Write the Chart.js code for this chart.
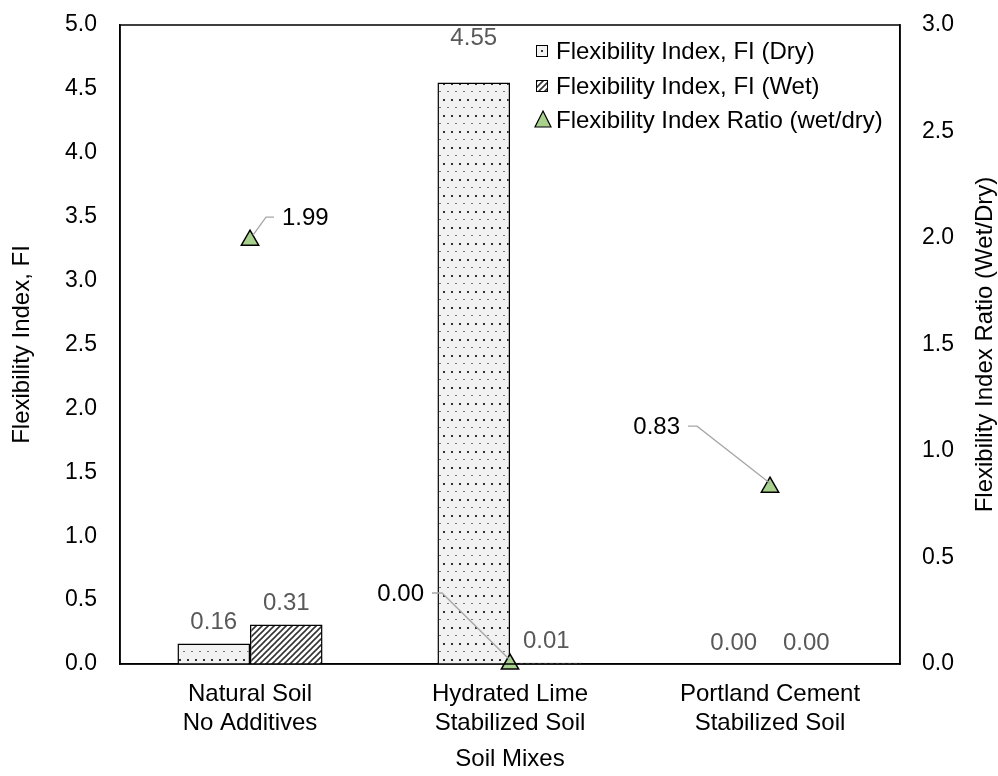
<!DOCTYPE html>
<html lang="en">
  <head>
    <meta charset="UTF-8" />
    <title>Flexibility Index</title>
    <style>
      html, body { margin: 0; padding: 0; background: #fff; }
      #wrap { width: 998px; height: 776px; }
    </style>
  </head>
  <body>
    <div id="wrap"><canvas id="fiChart" width="998" height="776"></canvas></div>
    <script src="https://cdn.jsdelivr.net/npm/chart.js@4.4.0/dist/chart.umd.min.js"></script>
    <script>
      // data
      var mixes = [["Natural Soil", "No Additives"], ["Hydrated Lime", "Stabilized Soil"], ["Portland Cement", "Stabilized Soil"]];
      var fiDry = [0.16, 4.55, 0.0];
      var fiWet = [0.31, 0.01, 0.0];
      var fiRatio = [1.99, 0.0, 0.83];
      var leftTicks = [0, 0.5, 1, 1.5, 2, 2.5, 3, 3.5, 4, 4.5, 5];
      var rightTicks = [0, 0.5, 1, 1.5, 2, 2.5, 3];

      var FONT = "'Liberation Sans', Arial, sans-serif";

      function dotPattern() {
        var c = document.createElement("canvas");
        c.width = 8; c.height = 16;
        var g = c.getContext("2d");
        g.fillStyle = "#f2f2f2";
        g.fillRect(0, 0, 8, 16);
        g.fillStyle = "#333";
        g.fillRect(3, 3, 2, 2);
        g.fillStyle = "#777";
        g.fillRect(7, 11, 2, 1);
        g.fillRect(-1, 11, 2, 1);
        return g.createPattern(c, "repeat");
      }

      function hatchPattern() {
        var c = document.createElement("canvas");
        c.width = 6; c.height = 6;
        var g = c.getContext("2d");
        g.fillStyle = "#fff";
        g.fillRect(0, 0, 6, 6);
        g.strokeStyle = "#333";
        g.lineWidth = 1.6;
        g.beginPath();
        g.moveTo(-1, 7); g.lineTo(7, -1);
        g.moveTo(-1, 1); g.lineTo(1, -1);
        g.moveTo(5, 7); g.lineTo(7, 5);
        g.stroke();
        return g.createPattern(c, "repeat");
      }

      var dryFill = dotPattern();
      var wetFill = hatchPattern();

      // labels, leader lines, legend, right title and plot frame
      var decorations = {
        id: "decorations",
        afterDatasetsDraw: function (chart) {
          var ctx = chart.ctx;
          var area = chart.chartArea;
          ctx.save();

          // frame
          ctx.strokeStyle = "#000";
          ctx.lineWidth = 1.5;
          ctx.strokeRect(area.left, area.top, area.right - area.left, area.bottom - area.top);

          ctx.font = "24px " + FONT;
          ctx.textAlign = "center";
          ctx.textBaseline = "middle";

          // bar values
          [0, 1].forEach(function (di) {
            var meta = chart.getDatasetMeta(di);
            var vals = chart.data.datasets[di].data;
            meta.data.forEach(function (bar, i) {
              var lift = (di === 0 && i === 1) ? 44 : 21;
              ctx.fillStyle = "#595959";
              ctx.fillText(vals[i].toFixed(2), bar.x, bar.y - lift);
            });
          });

          // ratio values with leader lines
          var lead = [
            { side: "right", bx: 16, dy: -23, tx: 32 },
            { side: "left", bx: -68, dy: -71, tx: -86 },
            { side: "left", bx: -73, dy: -61, tx: -90 }
          ];
          var pm = chart.getDatasetMeta(2);
          pm.data.forEach(function (pt, i) {
            var l = lead[i];
            var ly = pt.y + l.dy;
            ctx.strokeStyle = "#a6a6a6";
            ctx.lineWidth = 1.3;
            ctx.beginPath();
            if (l.side === "right") {
              ctx.moveTo(pt.x + 3, pt.y - 5);
              ctx.lineTo(pt.x + l.bx, ly);
              ctx.lineTo(pt.x + l.tx - 8, ly);
              ctx.stroke();
              ctx.fillStyle = "#000";
              ctx.textAlign = "left";
              ctx.fillText(fiRatio[i].toFixed(2), pt.x + l.tx, ly + 1);
            } else {
              ctx.moveTo(pt.x, pt.y - 4);
              ctx.lineTo(pt.x + l.bx, ly);
              ctx.lineTo(pt.x + l.tx + 8, ly);
              ctx.stroke();
              ctx.fillStyle = "#000";
              ctx.textAlign = "right";
              ctx.fillText(fiRatio[i].toFixed(2), pt.x + l.tx, ly + 1);
            }
          });

          // legend
          var names = chart.data.datasets.map(function (d) { return d.label; });
          var lx = 542, rows = [51, 86, 120];
          ctx.textAlign = "left";
          names.forEach(function (name, i) {
            var y = rows[i];
            if (i < 2) {
              ctx.fillStyle = i === 0 ? "#f2f2f2" : wetFill;
              ctx.fillRect(lx - 5.5, y - 5.5, 11, 11);
              if (i === 0) {
                ctx.fillStyle = "#333";
                ctx.fillRect(lx - 1, y - 1, 2, 2);
              }
              ctx.strokeStyle = "#000";
              ctx.lineWidth = 1;
              ctx.strokeRect(lx - 5.5, y - 5.5, 11, 11);
            } else {
              ctx.fillStyle = "#a9d18e";
              ctx.strokeStyle = "#000";
              ctx.lineWidth = 1.2;
              ctx.beginPath();
              ctx.moveTo(lx + 1, y - 9);
              ctx.lineTo(lx + 9, y + 7);
              ctx.lineTo(lx - 7, y + 7);
              ctx.closePath();
              ctx.fill();
              ctx.stroke();
            }
            ctx.fillStyle = "#000";
            ctx.fillText(name, 556, y + 1);
          });

          // right axis title, reading bottom to top
          ctx.translate(985, (area.top + area.bottom) / 2);
          ctx.rotate(-Math.PI / 2);
          ctx.textAlign = "center";
          ctx.fillStyle = "#000";
          ctx.fillText("Flexibility Index Ratio (Wet/Dry)", 0, 0);

          ctx.restore();
        }
      };

      function noPadY(s) { s.paddingTop = 0; s.paddingBottom = 0; }

      var fiCtx = document.getElementById("fiChart").getContext("2d");

      var fiChart = new Chart(fiCtx, {
        type: "bar",
        data: {
          labels: mixes,
          datasets: [
            {
              label: "Flexibility Index, FI (Dry)",
              data: fiDry,
              backgroundColor: dryFill,
              borderColor: "#000",
              borderWidth: 1.5,
              yAxisID: "y",
              order: 2
            },
            {
              label: "Flexibility Index, FI (Wet)",
              data: fiWet,
              backgroundColor: wetFill,
              borderColor: "#000",
              borderWidth: 1.5,
              yAxisID: "y",
              order: 2
            },
            {
              type: "line",
              label: "Flexibility Index Ratio (wet/dry)",
              data: fiRatio,
              yAxisID: "y1",
              showLine: false,
              pointStyle: "triangle",
              pointRadius: 10,
              pointBackgroundColor: "#a9d18e",
              pointBorderColor: "#000",
              pointBorderWidth: 1.5,
              clip: false,
              order: 1
            }
          ]
        },
        options: {
          responsive: false,
          animation: false,
          layout: { padding: { top: 25, left: 0, right: 0, bottom: 0 } },
          plugins: { legend: { display: false }, tooltip: { enabled: false } },
          datasets: { bar: { categoryPercentage: 0.558, barPercentage: 1 } },
          scales: {
            x: {
              grid: { display: false },
              border: { color: "#000", width: 1.5 },
              ticks: { color: "#000", font: { family: FONT, size: 24, lineHeight: 1.2 }, padding: 8, maxRotation: 0 },
              title: { display: true, text: "Soil Mixes", color: "#000", font: { family: FONT, size: 24 }, padding: { top: 0, bottom: 2 } },
              afterFit: function (s) { s.height = 112; s.paddingLeft = 0; s.paddingRight = 0; }
            },
            y: {
              position: "left",
              min: 0,
              max: 5,
              afterBuildTicks: function (s) { s.ticks = leftTicks.map(function (v) { return { value: v }; }); },
              grid: { display: false },
              border: { color: "#000", width: 1.5 },
              ticks: {
                color: "#000",
                font: { family: FONT, size: 23 },
                padding: 15,
                callback: function (v) { return v.toFixed(1); }
              },
              title: { display: true, text: "Flexibility Index, FI", color: "#000", font: { family: FONT, size: 24 }, padding: { top: 8, bottom: 0 } },
              afterFit: function (s) { s.width = 120; noPadY(s); }
            },
            y1: {
              position: "right",
              min: 0,
              max: 3,
              afterBuildTicks: function (s) { s.ticks = rightTicks.map(function (v) { return { value: v }; }); },
              grid: { display: false },
              border: { color: "#000", width: 1.5 },
              ticks: {
                color: "#000",
                font: { family: FONT, size: 23 },
                padding: 14,
                callback: function (v) { return v.toFixed(1); }
              },
              afterFit: function (s) { s.width = 98; noPadY(s); }
            }
          }
        },
        plugins: [decorations]
      });
    </script>
  </body>
</html>
